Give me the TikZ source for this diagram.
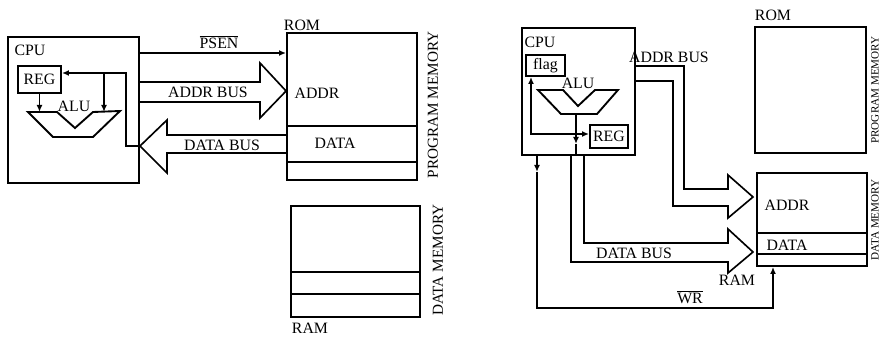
\documentclass[tikz,border=0pt]{standalone}
\usepackage{fontspec}
\setmainfont{Liberation Serif}
\usetikzlibrary{arrows.meta, positioning, fit, calc}

\begin{document}
\begin{tikzpicture}[x=0.03cm, y=-0.03cm,
    box/.style={draw, line width=1.6pt, inner sep=0pt},
    boxtext/.style={label={[lbl]center:#1}},
    unit/.style={draw, line width=1.6pt, line join=miter},
    wire/.style={line width=1.3pt},
    sig/.style={line width=1.3pt, -{Latex[length=6pt,width=5pt]}},
    bus/.style={line width=1.4pt, line join=miter},
    lbl/.style={font=\fontsize{13.5}{15}\selectfont, inner sep=0pt},
    side/.style={font=\fontsize{13}{15}\selectfont, rotate=90, inner sep=0pt},
    smallside/.style={font=\fontsize{9.5}{11}\selectfont, rotate=90, inner sep=0pt}]
  \useasboundingbox (0,0) rectangle (882,337);

  % ---- left: program memory and cpu ----
  \node[box, fit={(8,37) (139,183)}] (cpu1) {};
  \node[lbl] (cpu1lbl) at (30,50) {CPU};
  \node[box, fit={(18,66) (61,93)}, boxtext=REG] (reg1) {};
  \draw[unit] (28,112) coordinate (alu1tl) -- (57,112) -- (75,128) -- (93,112) -- (120,111) -- (93,137) -- (53,137) -- cycle;
  \node[lbl] (alu1lbl) at (74,106) {ALU};
  \draw[sig] (reg1.south) -- (reg1.south |- alu1tl);

  % rom
  \node[box, fit={(287,33) (417,180)}] (rom1) {};
  \draw[unit] (rom1.west |- 0,126) -- (rom1.east |- 0,126);
  \draw[unit] (rom1.west |- 0,162) -- (rom1.east |- 0,162);
  \node[lbl] (rom1lbl) at (302,25) {ROM};
  \node[lbl] (rom1addr) at (317,93) {ADDR};
  \node[lbl] (rom1data) at (335,143) {DATA};
  \node[side] (rom1side) at (433,105) {PROGRAM MEMORY};

  % ram
  \node[box, fit={(291,206) (420,317)}] (ram1) {};
  \draw[unit] (ram1.west |- 0,272) -- (ram1.east |- 0,272);
  \draw[unit] (ram1.west |- 0,294) -- (ram1.east |- 0,294);
  \node[lbl] (ram1lbl) at (310,328) {RAM};
  \node[side] (ram1side) at (438,260) {DATA MEMORY};

  % psen
  \draw[sig] (cpu1.east |- 0,53) -- (rom1.west |- 0,53);
  \node[lbl] (psen1) at (219,42) {$\overline{\mbox{PSEN}}$};

  % address bus
  \draw[bus] (cpu1.east |- 0,82) -- (260,82) -- (260,63) -- (rom1.west |- 0,91) -- (260,118) -- (260,102) -- (cpu1.east |- 0,102);
  \node[lbl] (addr1lbl) at (208,92) {ADDR BUS};

  % data bus, back into the cpu
  \coordinate (db1tip) at (140,146);
  \draw[bus] (rom1.west |- 0,135) -- (167,135) -- (167,120) -- (db1tip) -- (167,173) -- (167,153) -- (rom1.west |- 0,153);
  \node[lbl] (data1lbl) at (222,145) {DATA BUS};
  \coordinate (fb1) at (126,73);
  \coordinate (br1) at (104,73);
  \draw[sig] (db1tip) -- (fb1 |- db1tip) -- (fb1) -- (reg1.east |- fb1);
  \draw[sig] (br1) -- (br1 |- alu1tl);

  % ---- right: separate data memory ----
  \node[box, fit={(522,28) (635,155)}] (cpu2) {};
  \node[lbl] (cpu2lbl) at (540,42) {CPU};
  \node[box, fit={(526,55) (565,76)}, boxtext=flag] (flag2) {};
  \draw[unit] (538,90) -- (563,90) -- (578,106) -- (595,90) -- (618,90) -- (597,114) -- (561,114) -- cycle;
  \coordinate (alu2out) at (576,114);
  \node[lbl] (alu2lbl) at (578,83) {ALU};
  \node[box, fit={(590,125) (628,148)}, boxtext=REG] (reg2) {};
  \coordinate (br2) at (576,134);
  \coordinate (fl2) at (531,134);
  \draw[wire] (alu2out) -- (br2);
  \draw[sig] (br2) -- (reg2.west |- br2);
  \draw[sig] (br2) -- (fl2) -- (fl2 |- flag2.south);
  \draw[sig] (br2) -- (576,144);
  \draw[wire] (576,144) -- (alu2out |- cpu2.south);

  % rom
  \node[box, fit={(755,27) (866,153)}] (rom2) {};
  \node[lbl] (rom2lbl) at (773,15) {ROM};
  \node[smallside] (rom2side) at (875,90) {PROGRAM MEMORY};

  % ram
  \node[box, fit={(757,173) (867,266)}] (ram2) {};
  \draw[unit] (ram2.west |- 0,233) -- (ram2.east |- 0,233);
  \draw[unit] (ram2.west |- 0,254) -- (ram2.east |- 0,254);
  \node[lbl] (ram2addr) at (787,205) {ADDR};
  \node[lbl] (ram2data) at (787,245) {DATA};
  \node[lbl] (ram2lbl) at (737,280) {RAM};
  \node[smallside] (ram2side) at (875,220) {DATA MEMORY};

  % address bus
  \draw[bus] (cpu2.east |- 0,66) -- (684,66) -- (684,189) -- (728,189) -- (728,175) -- (753,197) -- (728,218) -- (728,206) -- (673,206) -- (673,81) -- (cpu2.east |- 0,81);
  \node[lbl] (addr2lbl) at (669,57) {ADDR BUS};

  % data bus
  \draw[bus] (571,0 |- cpu2.south) -- (571,262) -- (728,262) -- (728,273) -- (753,252) -- (728,229) -- (728,243) -- (584,243) -- (584,0 |- cpu2.south);
  \node[lbl] (data2lbl) at (634,253) {DATA BUS};

  % write strobe
  \coordinate (wr2) at (773,308);
  \draw[sig] (537,0 |- cpu2.south) -- (537,172);
  \draw[sig] (537,172) -- (537,308) -- (wr2) -- (wr2 |- ram2.south);
  \node[lbl] (wr2lbl) at (690,297) {$\overline{\mbox{WR}}$};
\end{tikzpicture}
\end{document}
